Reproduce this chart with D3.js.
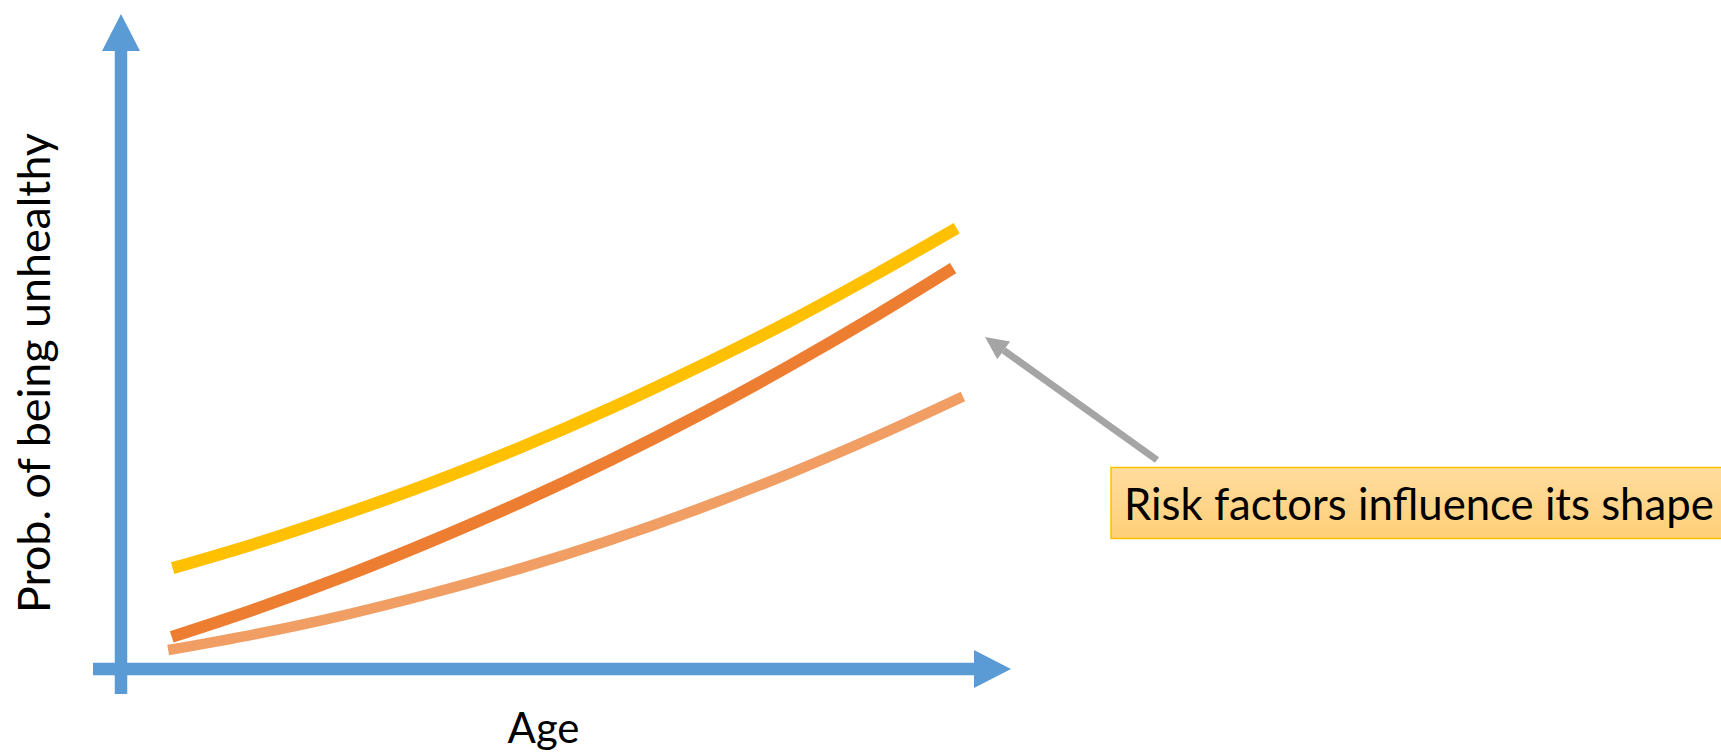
<!DOCTYPE html>
<html>
<head>
<meta charset="utf-8">
<script src="https://cdn.jsdelivr.net/npm/d3@7"></script>
<style>
  html, body { margin: 0; padding: 0; background: #fff; }
  svg { display: block; }
</style>
</head>
<body>
<script>
// ---- data (x = age units 0..100, y = probability units 0..100)
const seriesNames = ["high risk", "medium risk", "low risk"];
const seriesColors = ["#FFC000", "#ED7D31", "#F19E64"];
const ageHigh = [5.8, 15, 25, 35, 45, 55, 65, 75, 85, 93.9];
const probHigh = [15.4, 19.1, 23.6, 28.5, 33.9, 39.8, 46.2, 53.0, 60.4, 67.3];
const ageMed = [5.7, 15, 25, 35, 45, 55, 65, 75, 85, 93.5];
const probMed = [4.9, 9.1, 14.1, 19.6, 25.5, 31.9, 38.8, 46.2, 54.1, 61.2];
const ageLow = [5.3, 15, 25, 35, 45, 55, 65, 75, 85, 94.6];
const probLow = [2.9, 5.3, 8.2, 11.6, 15.4, 19.7, 24.5, 29.8, 35.6, 41.6];
const xLabel = "Age";
const yLabel = "Prob. of being unhealthy";
const noteText = "Risk factors influence its shape";

const W = 1721, H = 752;
const svg = d3.select("body").append("svg").attr("width", W).attr("height", H);

const x = d3.scaleLinear().domain([0, 100]).range([121, 1011]);
const y = d3.scaleLinear().domain([0, 100]).range([669, 14]);

const blue = "#5B9BD5";
const ox = x(0), oy = y(0);

// vertical axis arrow
const shaftW = 12.5, headW = 38, headL = 37;
svg.append("path")
  .attr("fill", blue)
  .attr("d", d3.line()([
    [ox - shaftW / 2, oy + 25],
    [ox - shaftW / 2, y(100) + headL],
    [ox - headW / 2, y(100) + headL],
    [ox, y(100)],
    [ox + headW / 2, y(100) + headL],
    [ox + shaftW / 2, y(100) + headL],
    [ox + shaftW / 2, oy + 25]
  ]) + "Z");

// horizontal axis arrow
svg.append("path")
  .attr("fill", blue)
  .attr("d", d3.line()([
    [ox - 28, oy - shaftW / 2],
    [x(100) - headL, oy - shaftW / 2],
    [x(100) - headL, oy - headW / 2],
    [x(100), oy],
    [x(100) - headL, oy + headW / 2],
    [x(100) - headL, oy + shaftW / 2],
    [ox - 28, oy + shaftW / 2]
  ]) + "Z");

// curves
const series = [
  { ages: ageHigh, probs: probHigh, w: 12 },
  { ages: ageMed, probs: probMed, w: 12 },
  { ages: ageLow, probs: probLow, w: 10.5 }
];
const line = d3.line().x(d => x(d[0])).y(d => y(d[1])).curve(d3.curveMonotoneX);
series.forEach((s, i) => {
  svg.append("path")
    .attr("fill", "none")
    .attr("stroke", seriesColors[i])
    .attr("stroke-width", s.w)
    .attr("stroke-linecap", "butt")
    .attr("d", line(s.ages.map((a, j) => [a, s.probs[j]])));
});

// axis labels
function fit(sel, target) {
  sel.attr("font-size", 40);
  const len = sel.node().getComputedTextLength();
  sel.attr("font-size", 40 * target / len);
}
const font = "Lato, 'Noto Sans', sans-serif";
const xl = svg.append("text")
  .attr("x", 543.5).attr("y", 743)
  .attr("text-anchor", "middle")
  .attr("font-family", font).attr("fill", "#000")
  .text(xLabel);
fit(xl, 72);

const yl = svg.append("text")
  .attr("transform", "translate(50,373) rotate(-90)")
  .attr("text-anchor", "middle")
  .attr("font-family", font).attr("fill", "#000")
  .text(yLabel);
fit(yl, 480);

// annotation box
const defs = svg.append("defs");
const grad = defs.append("linearGradient").attr("id", "boxg")
  .attr("x1", 0).attr("y1", 0).attr("x2", 0).attr("y2", 1);
grad.append("stop").attr("offset", "0%").attr("stop-color", "#FFDC9E");
grad.append("stop").attr("offset", "100%").attr("stop-color", "#FFCF78");
svg.append("rect")
  .attr("x", 1111).attr("y", 467.5).attr("width", 620).attr("height", 71)
  .attr("fill", "url(#boxg)").attr("stroke", "#FFC000").attr("stroke-width", 1.5);
const nt = svg.append("text")
  .attr("x", 1124).attr("y", 520)
  .attr("font-family", font).attr("fill", "#000")
  .text(noteText);
fit(nt, 590);

// annotation arrow (gray)
const tip = [985, 337], tail = [1157, 460];
const ang = Math.atan2(tail[1] - tip[1], tail[0] - tip[0]);
const hl = 23, hw = 11;
const bx = tip[0] + hl * Math.cos(ang), by = tip[1] + hl * Math.sin(ang);
svg.append("line")
  .attr("x1", tail[0]).attr("y1", tail[1]).attr("x2", bx).attr("y2", by)
  .attr("stroke", "#A5A5A5").attr("stroke-width", 7);
svg.append("path")
  .attr("fill", "#A5A5A5")
  .attr("d", d3.line()([
    tip,
    [bx + hw * Math.sin(ang), by - hw * Math.cos(ang)],
    [bx - hw * Math.sin(ang), by + hw * Math.cos(ang)]
  ]) + "Z");
</script>
</body>
</html>
